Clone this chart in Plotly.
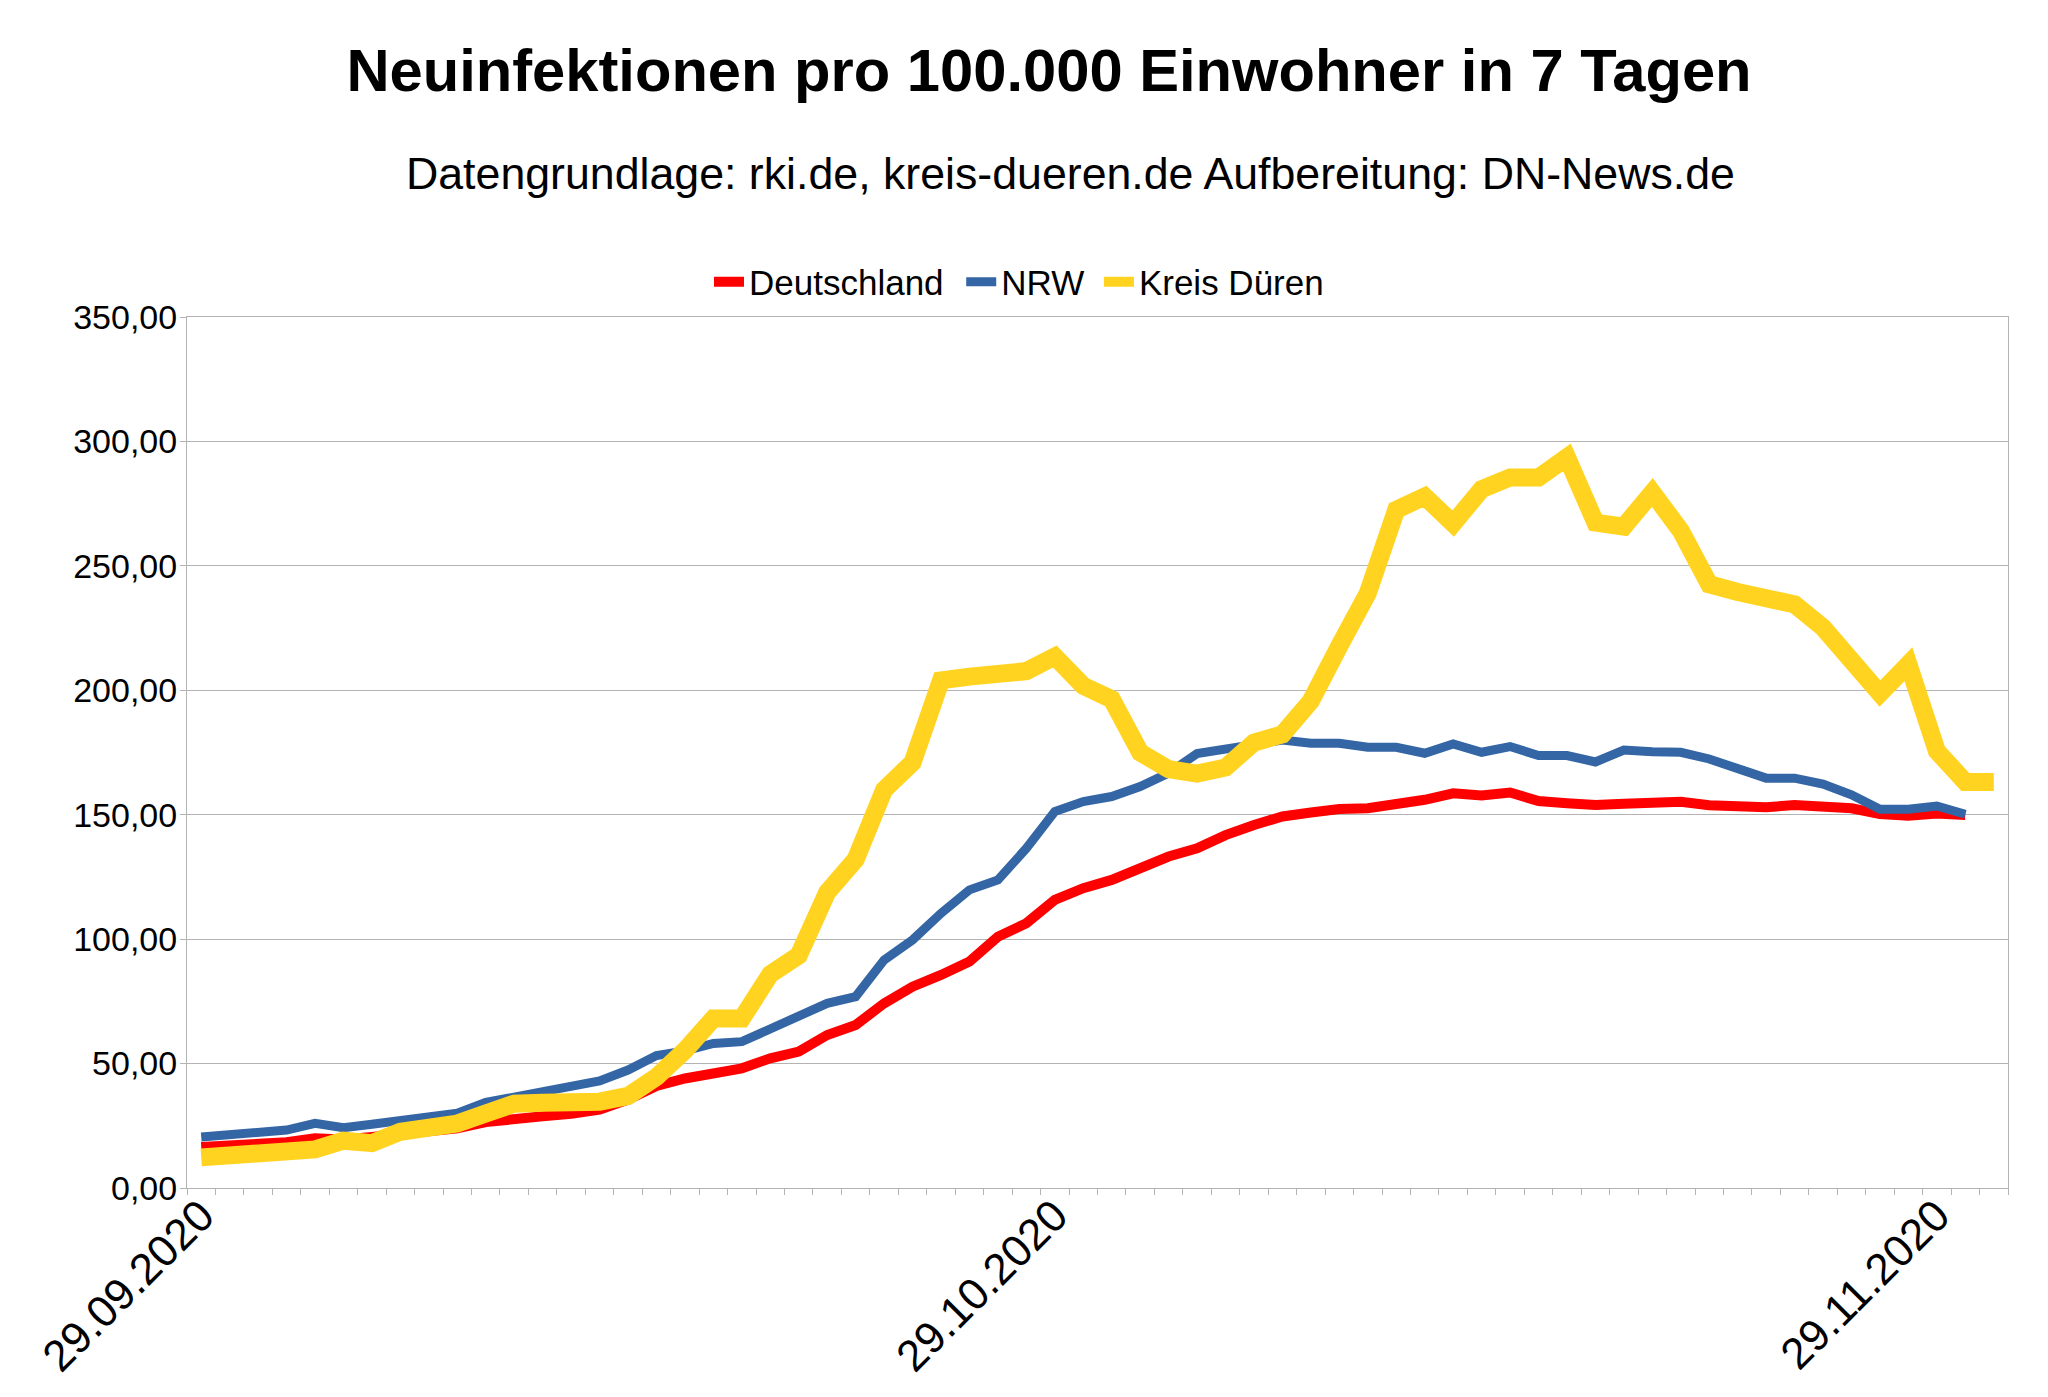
import pandas as pd
import plotly.graph_objects as go

dates = pd.date_range("2020-09-29", "2020-12-01", freq="D")

deutschland = [16.5, 16.8, 17.6, 18.4, 20.0, 19.5, 20.5, 21.5, 22.5, 24.0,
               26.5, 28.0, 28.8, 29.8, 31.5, 35.5, 41.0, 44.0,
               46.1, 48.1, 52.1, 54.8, 61.5, 65.5, 74.2, 80.9, 85.6, 91.0,
               101.0, 106.4, 115.8, 120.5, 123.8, 128.5, 133.2, 136.5,
               141.8, 145.9, 149.3, 150.9, 152.3, 152.6, 154.2, 156.0, 158.6,
               157.7, 158.9, 155.5, 154.6, 153.9, 154.4, 154.6, 155.2, 153.8,
               153.5, 153.0, 153.9, 153.6, 152.6, 150.3, 149.6, 150.5, 149.9]

nrw = [20.5, 21.3, 22.2, 23.3, 26.0, 24.2, 25.6, 27.2, 28.3, 30.1,
       34.4, 36.6, 39.0, 40.7, 43.0, 47.4, 53.2, 55.1,
       58.1, 58.8, 64.2, 69.5, 74.2, 76.9, 91.6, 99.7, 110.4, 119.8,
       123.8, 136.5, 151.3, 155.3, 157.3, 161.3, 166.7, 174.6,
       176.4, 177.4, 180.0, 178.7, 178.7, 177.1, 177.1, 174.7, 178.4,
       175.1, 177.4, 173.8, 173.8, 171.2, 176.0, 175.3, 175.1, 172.4,
       168.4, 164.7, 164.7, 162.3, 158.0, 152.2, 152.2, 153.5, 150.2]

kreis_dueren = [12.3, 13.1, 14.2, 15.5, 15.5, 19.0, 18.0, 22.6, 23.6, 25.9,
                29.9, 33.9, 34.3, 34.4, 34.7, 37.0, 44.6, 55.3,
                68.1, 68.1, 85.9, 93.5, 118.8, 132.0, 160.0, 171.0, 204.0,
                205.5, 207.4, 207.7, 213.6, 201.8, 196.4, 175.0, 168.3, 166.5,
                169.0, 179.0, 182.3, 195.7, 217.8, 239.0, 272.5, 277.9, 267.0,
                280.8, 285.5, 285.5, 293.6, 267.4, 265.8, 279.5, 264.1, 242.6,
                239.5, 236.9, 234.5, 225.2, 211.1, 198.7, 210.5, 175.6, 163.1,
                163.1]

series_names = ["Deutschland", "NRW", "Kreis Düren"]
date_ticks = ["2020-09-29", "2020-10-29", "2020-11-29"]
y_ticks = [0, 50, 100, 150, 200, 250, 300, 350]

FONT = "Liberation Sans, Arial, sans-serif"
GRID = "#b3b3b3"

# the page body adds an 8px offset; the figure is sized to end at the window edge
W, H = 2040, 1389
L, R, T, B = 179, 40, 309, 209
PW, PH = W - L - R, H - T - B

fig = go.Figure()
fig.add_trace(go.Scatter(x=dates[:len(deutschland)], y=deutschland,
                         name=series_names[0] + "\u00a0\u200a",
                         mode="lines", line=dict(color="#ff0000", width=10)))
fig.add_trace(go.Scatter(x=dates[:len(nrw)], y=nrw,
                         name=series_names[1] + "\u00a0",
                         mode="lines", line=dict(color="#3465a4", width=9)))
fig.add_trace(go.Scatter(x=dates[:len(kreis_dueren)], y=kreis_dueren,
                         name=series_names[2],
                         mode="lines", line=dict(color="#ffd320", width=18)))

fig.update_layout(
    width=W, height=H,
    paper_bgcolor="white", plot_bgcolor="white",
    font=dict(family=FONT, color="black", size=34),
    separators=",.",
    margin=dict(l=L, r=R, t=T, b=B, autoexpand=False),
    title=dict(text="Neuinfektionen pro 100.000 Einwohner in 7 Tagen",
               font=dict(family=FONT, size=59.7, weight="bold", color="black"),
               x=1041 / W, xanchor="center", xref="container",
               y=1 - 62.5 / H, yanchor="middle", yref="container"),
    annotations=[dict(text="Datengrundlage: rki.de, kreis-dueren.de Aufbereitung: DN-News.de",
                      x=(1062 - L) / PW, xref="paper", xanchor="center",
                      y=(T + PH - 165) / PH, yref="paper", yanchor="middle",
                      showarrow=False, font=dict(family=FONT, size=44.7, color="black"))],
    legend=dict(orientation="h", x=(1011 - L) / PW, xanchor="center",
                y=(T + PH - 274) / PH, yanchor="middle",
                font=dict(family=FONT, size=35), itemwidth=30,
                bgcolor="rgba(0,0,0,0)"),
    showlegend=True,
)

fig.update_xaxes(
    type="date",
    range=["2020-09-28 12:00", "2020-12-01 12:00"],
    tickmode="array", tickvals=date_ticks, tickformat="%d.%m.%Y",
    tickangle=-45, tickfont=dict(family=FONT, size=44, color="black"),
    ticks="", ticklabelstandoff=-17,
    showgrid=False, zeroline=False,
    showline=True, linecolor=GRID, linewidth=1, mirror=True,
    minor=dict(tick0="2020-09-28 12:00", dtick=86400000, ticks="outside",
               ticklen=6, tickcolor=GRID, tickwidth=1, showgrid=False),
)
fig.update_yaxes(
    range=[0, 350], tickmode="array", tickvals=y_ticks, tickformat=".2f",
    tickfont=dict(family=FONT, size=34, color="black"),
    ticks="outside", ticklen=6, tickcolor=GRID, tickwidth=1, ticklabelstandoff=-4,
    showgrid=True, gridcolor=GRID, gridwidth=1, zeroline=False,
    showline=True, linecolor=GRID, linewidth=1, mirror=True,
)

fig.write_html("out.html")
